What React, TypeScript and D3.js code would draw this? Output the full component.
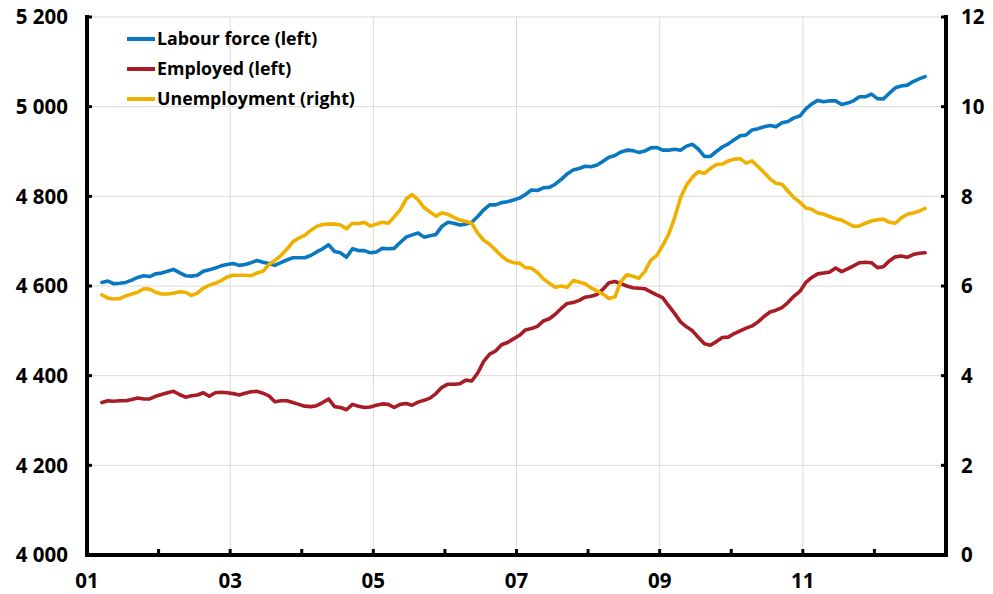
import React from "react";
import * as d3 from "d3";

// Monthly data, March 2001 .. September 2012
const startYear = 2001;
const startMonth = 2; // 0 = January -> March 2001

const labourForce = [
  4608, 4611, 4605, 4606, 4608, 4613, 4619, 4623, 4621, 4627, 4629, 4633, 4637, 4630, 4623, 4622, 4624, 4633, 4636, 4640, 4645, 4648,
  4650, 4646, 4648, 4652, 4657, 4653, 4650, 4646, 4652, 4658, 4663, 4663, 4663, 4668, 4676, 4683, 4692, 4677, 4674, 4664, 4683, 4679, 4679, 4674,
  4676, 4684, 4683, 4684, 4697, 4709, 4714, 4718, 4709, 4712, 4715, 4733, 4742, 4740, 4736, 4738, 4742, 4755, 4770, 4781, 4781, 4786, 4788, 4792,
  4796, 4804, 4814, 4813, 4819, 4820, 4827, 4838, 4850, 4859, 4862, 4867, 4866, 4870, 4878, 4887, 4891, 4899, 4903, 4902, 4898, 4901, 4908, 4909,
  4903, 4903, 4905, 4903, 4912, 4916, 4905, 4889, 4889, 4900, 4910, 4917, 4926, 4935, 4937, 4948, 4951, 4955, 4958, 4955, 4964, 4967, 4975, 4979,
  4995, 5006, 5014, 5011, 5013, 5013, 5005, 5008, 5013, 5022, 5022, 5028, 5018, 5017, 5030, 5042, 5046, 5048, 5056, 5062, 5067,
];

const employed = [
  4340, 4344, 4343, 4344, 4344, 4347, 4350, 4348, 4348, 4354, 4358, 4362, 4365, 4358, 4352, 4355, 4357, 4362, 4354, 4362, 4363, 4362,
  4360, 4357, 4361, 4364, 4365, 4361, 4355, 4342, 4344, 4344, 4340, 4336, 4332, 4331, 4333, 4340, 4348, 4331, 4329, 4324, 4336, 4332, 4329, 4330,
  4334, 4337, 4336, 4329, 4336, 4338, 4334, 4341, 4345, 4350, 4360, 4374, 4381, 4381, 4382, 4390, 4388, 4406, 4432, 4448, 4455, 4469, 4474, 4482,
  4490, 4502, 4505, 4510, 4522, 4527, 4537, 4550, 4561, 4563, 4568, 4575, 4577, 4581, 4593, 4607, 4610, 4605, 4600, 4596, 4595, 4594, 4587, 4580,
  4574, 4556, 4539, 4520, 4509, 4500, 4485, 4471, 4468, 4476, 4485, 4486, 4494, 4500, 4506, 4511, 4520, 4532, 4542, 4546, 4552, 4563, 4577, 4588,
  4608, 4619, 4627, 4629, 4631, 4640, 4632, 4638, 4645, 4652, 4653, 4652, 4641, 4643, 4656, 4665, 4667, 4664, 4670, 4673, 4674,
];

const unemployment = [
  5.80, 5.73, 5.71, 5.72, 5.78, 5.82, 5.86, 5.94, 5.93, 5.86, 5.82, 5.82, 5.84, 5.87, 5.86, 5.79, 5.84, 5.95, 6.02, 6.06, 6.12, 6.20,
  6.24, 6.24, 6.24, 6.23, 6.29, 6.33, 6.48, 6.57, 6.68, 6.82, 6.98, 7.07, 7.13, 7.24, 7.33, 7.37, 7.38, 7.38, 7.36, 7.28, 7.40, 7.39, 7.42, 7.34,
  7.38, 7.42, 7.40, 7.54, 7.70, 7.94, 8.04, 7.92, 7.75, 7.65, 7.56, 7.63, 7.60, 7.53, 7.47, 7.44, 7.40, 7.18, 7.02, 6.93, 6.80, 6.67, 6.57, 6.52,
  6.51, 6.41, 6.40, 6.30, 6.16, 6.06, 5.97, 6.00, 5.97, 6.12, 6.09, 6.05, 5.96, 5.89, 5.82, 5.72, 5.76, 6.10, 6.25, 6.22, 6.17, 6.32, 6.57, 6.68,
  6.90, 7.15, 7.52, 7.97, 8.25, 8.43, 8.55, 8.51, 8.62, 8.71, 8.72, 8.79, 8.83, 8.84, 8.74, 8.79, 8.66, 8.53, 8.39, 8.29, 8.27, 8.12, 7.97, 7.87,
  7.74, 7.71, 7.63, 7.60, 7.55, 7.50, 7.47, 7.40, 7.33, 7.34, 7.40, 7.45, 7.48, 7.49, 7.42, 7.40, 7.52, 7.60, 7.63, 7.67, 7.73,
];

const leftTicks = [4000, 4200, 4400, 4600, 4800, 5000, 5200];
const rightTicks = [0, 2, 4, 6, 8, 10, 12];
const yearTicks = [2001, 2002, 2003, 2004, 2005, 2006, 2007, 2008, 2009, 2010, 2011, 2012, 2013];
const yearLabels = [2001, 2003, 2005, 2007, 2009, 2011];

const seriesNames = ["Labour force (left)", "Employed (left)", "Unemployment (right)"];
const seriesColors = ["#0a78c0", "#a81d25", "#f0b000"];

const W = 993;
const H = 594;
const M = { left: 87, right: 946, top: 17, bottom: 555 };
const FONT = "'Open Sans', 'Noto Sans', sans-serif";

export default function App() {
  const x = d3.scaleLinear().domain([2001, 2013]).range([M.left, M.right]);
  const yL = d3.scaleLinear().domain([4000, 5200]).range([M.bottom, M.top]);
  const yR = d3.scaleLinear().domain([0, 12]).range([M.bottom, M.top]);

  const t = (i: number) => startYear + (startMonth + i + 0.5) / 12;

  const lineL = d3
    .line<number>()
    .x((_, i) => x(t(i)))
    .y((d) => yL(d));
  const lineR = d3
    .line<number>()
    .x((_, i) => x(t(i)))
    .y((d) => yR(d));

  const paths = [lineL(labourForce), lineL(employed), lineR(unemployment)];

  return (
    <div style={{ position: "absolute", left: 0, top: 0 }}>
      <svg width={W} height={H} style={{ display: "block", fontFamily: FONT }}>
        <rect width={W} height={H} fill="#fff" />
        {/* horizontal grid */}
        {leftTicks.map((v) => (
          <line key={"gh" + v} x1={M.left} x2={M.right} y1={yL(v)} y2={yL(v)} stroke="#d9d9d9" strokeWidth={1} />
        ))}
        {/* vertical grid */}
        {yearLabels.filter((yv) => yv !== 2001).map((yv) => (
          <line key={"gv" + yv} x1={x(yv)} x2={x(yv)} y1={M.top} y2={M.bottom} stroke="#d9d9d9" strokeWidth={1} />
        ))}

        {/* series */}
        {paths.map((p, i) => (
          <path key={"s" + i} d={p || ""} fill="none" stroke={seriesColors[i]} strokeWidth={3.6} strokeLinejoin="round" strokeLinecap="round" />
        ))}

        {/* axes */}
        <line x1={M.left} x2={M.left} y1={M.top - 2} y2={M.bottom + 2} stroke="#000" strokeWidth={4} />
        <line x1={M.right} x2={M.right} y1={M.top - 2} y2={M.bottom + 2} stroke="#000" strokeWidth={4} />
        <line x1={M.left - 2} x2={M.right + 2} y1={M.bottom} y2={M.bottom} stroke="#000" strokeWidth={4} />

        {/* left ticks and labels */}
        {leftTicks.map((v) => (
          <g key={"lt" + v}>
            <line x1={M.left} x2={M.left + 5} y1={yL(v)} y2={yL(v)} stroke="#000" strokeWidth={3} />
            <text x={68} y={yL(v)} dy="0.36em" textAnchor="end" fontSize={20.5} fontWeight={700} fill="#000">
              {d3.format(",")(v).replace(",", " ")}
            </text>
          </g>
        ))}
        {/* right ticks and labels */}
        {rightTicks.map((v) => (
          <g key={"rt" + v}>
            <line x1={M.right - 5} x2={M.right} y1={yR(v)} y2={yR(v)} stroke="#000" strokeWidth={3} />
            <text x={961} y={yR(v)} dy="0.36em" textAnchor="start" fontSize={20.5} fontWeight={700} fill="#000">
              {v}
            </text>
          </g>
        ))}
        {/* x ticks */}
        {yearTicks.map((yv) => (
          <line key={"xt" + yv} x1={x(yv)} x2={x(yv)} y1={M.bottom} y2={M.bottom - 6} stroke="#000" strokeWidth={3} />
        ))}
        {yearLabels.map((yv) => (
          <text key={"xl" + yv} x={x(yv)} y={588} textAnchor="middle" fontSize={20.5} fontWeight={700} fill="#000">
            {String(yv).slice(2)}
          </text>
        ))}

        {/* legend */}
        {seriesNames.map((n, i) => (
          <g key={"lg" + i}>
            <line x1={127} x2={155} y1={39 + i * 30} y2={39 + i * 30} stroke={seriesColors[i]} strokeWidth={4} />
            <text x={157} y={39 + i * 30} dy="0.36em" fontSize={17.8} fontWeight={700} fill="#000">
              {n}
            </text>
          </g>
        ))}
      </svg>
    </div>
  );
}
